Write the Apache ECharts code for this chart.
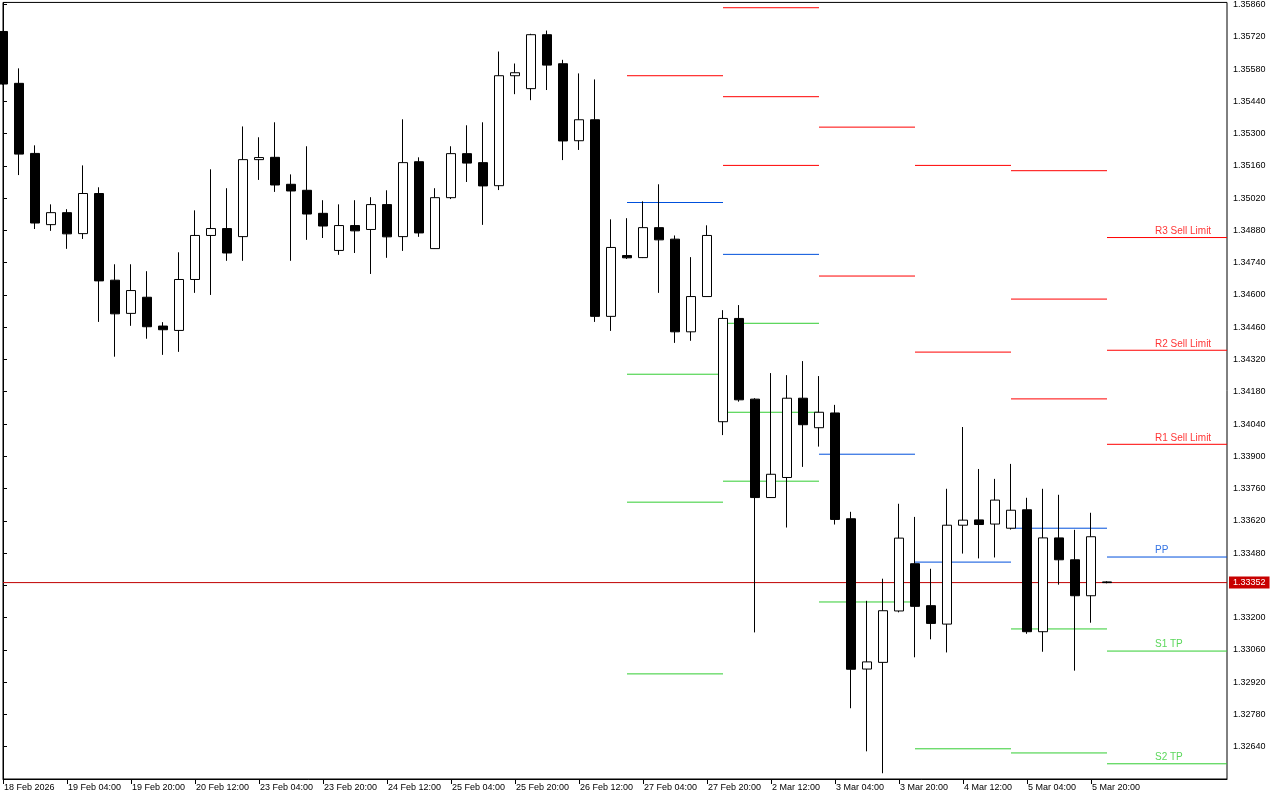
<!DOCTYPE html>
<html>
<head>
<meta charset="utf-8">
<script src="https://cdn.jsdelivr.net/npm/echarts@6/dist/echarts.min.js"></script>
<style>
  html, body { margin: 0; padding: 0; background: #fff; }
  #chart { width: 1280px; height: 800px; }
</style>
</head>
<body>
<div id="chart"></div>
<script>
// H4 candles, index 0 = 18 Feb 2026 12:00
const timeLabels = ['18 Feb 2026', '19 Feb 04:00', '19 Feb 20:00', '20 Feb 12:00', '23 Feb 04:00',
  '23 Feb 20:00', '24 Feb 12:00', '25 Feb 04:00', '25 Feb 20:00', '26 Feb 12:00', '27 Feb 04:00',
  '27 Feb 20:00', '2 Mar 12:00', '3 Mar 04:00', '3 Mar 20:00', '4 Mar 12:00', '5 Mar 04:00', '5 Mar 20:00'];

const opens = [1.35743, 1.35518, 1.35214, 1.34905, 1.34957, 1.34866, 1.35040, 1.34664, 1.34520, 1.34590,
  1.34465, 1.34446, 1.34667, 1.34858, 1.34888, 1.34853, 1.35187, 1.35197, 1.35080, 1.35054,
  1.34954, 1.34793, 1.34901, 1.34884, 1.34992, 1.34853, 1.35178, 1.34801, 1.35022, 1.35213,
  1.35174, 1.35074, 1.35551, 1.35495, 1.35729, 1.35603, 1.35269, 1.35360, 1.34507, 1.34771,
  1.34762, 1.34892, 1.34842, 1.34440, 1.34593, 1.34050, 1.34498, 1.34148, 1.33721, 1.33808,
  1.34152, 1.34024, 1.34088, 1.33629, 1.32977, 1.33006, 1.33229, 1.33434, 1.33252, 1.33172,
  1.33601, 1.33624, 1.33606, 1.33588, 1.33668, 1.33139, 1.33546, 1.33451, 1.33295, 1.33355];
const closes = [1.35515, 1.35211, 1.34912, 1.34957, 1.34865, 1.35040, 1.34661, 1.34518, 1.34619, 1.34462,
  1.34449, 1.34667, 1.34858, 1.34888, 1.34782, 1.35187, 1.35196, 1.35077, 1.35051, 1.34951,
  1.34899, 1.34901, 1.34878, 1.34992, 1.34852, 1.35174, 1.34869, 1.35022, 1.35213, 1.35172,
  1.35073, 1.35551, 1.35564, 1.35729, 1.35597, 1.35268, 1.35360, 1.34507, 1.34806, 1.34761,
  1.34892, 1.34839, 1.34440, 1.34593, 1.34858, 1.34498, 1.34145, 1.33721, 1.33822, 1.34152,
  1.34037, 1.34091, 1.33626, 1.32976, 1.33008, 1.33230, 1.33545, 1.33249, 1.33175, 1.33601,
  1.33623, 1.33604, 1.33710, 1.33666, 1.33139, 1.33546, 1.33451, 1.33295, 1.33551, 1.33352];
const lows = [1.35512, 1.35120, 1.34886, 1.34878, 1.34800, 1.34843, 1.34483, 1.34332, 1.34466, 1.34410,
  1.34340, 1.34353, 1.34609, 1.34600, 1.34748, 1.34748, 1.35099, 1.35047, 1.34748, 1.34839,
  1.34847, 1.34774, 1.34782, 1.34691, 1.34761, 1.34791, 1.34852, 1.34800, 1.35016, 1.35090,
  1.34904, 1.35055, 1.35471, 1.35445, 1.35489, 1.35185, 1.35229, 1.34483, 1.34444, 1.34756,
  1.34760, 1.34609, 1.34392, 1.34401, 1.34593, 1.33992, 1.34137, 1.33136, 1.33720, 1.33591,
  1.33854, 1.33942, 1.33604, 1.32807, 1.32620, 1.32525, 1.33223, 1.33028, 1.33106, 1.33049,
  1.33478, 1.33457, 1.33461, 1.33582, 1.33130, 1.33052, 1.33343, 1.32970, 1.33178, 1.33349];
const highs = [1.35745, 1.35583, 1.35249, 1.34993, 1.34972, 1.35162, 1.35067, 1.34733, 1.34733, 1.34703,
  1.34482, 1.34785, 1.34967, 1.35145, 1.35063, 1.35331, 1.35284, 1.35349, 1.35123, 1.35245,
  1.35011, 1.34993, 1.35011, 1.35024, 1.35054, 1.35362, 1.35197, 1.35063, 1.35245, 1.35336,
  1.35349, 1.35656, 1.35604, 1.35733, 1.35747, 1.35620, 1.35561, 1.35535, 1.34928, 1.34933,
  1.35006, 1.35080, 1.34858, 1.34764, 1.34902, 1.34534, 1.34556, 1.34152, 1.34261, 1.34252,
  1.34313, 1.34248, 1.34123, 1.33659, 1.33273, 1.33369, 1.33694, 1.33637, 1.33412, 1.33759,
  1.34027, 1.33845, 1.33802, 1.33867, 1.33720, 1.33759, 1.33733, 1.33581, 1.33655, 1.33358];

const currentPrice = 1.33352;

// daily pivot levels: 27 Feb, 2 Mar, 3 Mar, 4 Mar, 5 Mar, 6 Mar
const pivotStart = [39, 45, 51, 57, 63, 69];
const R3 = [null, 1.35846, null, null, 1.35139, 1.34849];
const R2 = [null, 1.35460, 1.35328, 1.35162, 1.34582, 1.34360];
const R1 = [1.35551, 1.35162, 1.34682, 1.34352, 1.34149, 1.33952];
const PP = [1.35001, 1.34776, 1.33909, 1.33441, 1.33588, 1.33463];
const S1 = [1.34256, 1.34477, 1.33268, 1.32631, 1.33151, 1.33055];
const S2 = [1.33701, 1.34091, null, null, 1.32613, 1.32566];
const S3 = [1.32956, 1.33792, null, null, null, null];
const levelLabels = ['R3 Sell Limit', 'R2 Sell Limit', 'R1 Sell Limit', 'PP', 'S1 TP', 'S2 TP', ''];

const X_MAX = 76.5;
const LABEL_X = 72;
const RED = '#ff0000', BLUE = '#0050dc', GREEN = '#32cd32';
const levels = [R3, R2, R1, PP, S1, S2, S3];
const levelColors = [RED, RED, RED, BLUE, GREEN, GREEN, GREEN];

const candles = opens.map((o, i) => [i, o, closes[i], lows[i], highs[i]]);
const timeTicks = timeLabels.map((t, i) => i * 4);

const series = [{
  type: 'candlestick',
  data: candles,
  barWidth: 10,
  clip: true,
  z: 5,
  itemStyle: {
    color: '#ffffff',
    color0: '#000000',
    borderColor: '#000000',
    borderColor0: '#000000',
    borderWidth: 1
  }
}, {
  // bid line with price tag on the axis
  type: 'line',
  data: [[0, currentPrice], [X_MAX, currentPrice]],
  symbol: 'none',
  silent: true,
  z: 4,
  lineStyle: { color: '#c00000', width: 1 },
  endLabel: {
    show: true,
    distance: 2,
    formatter: currentPrice.toFixed(5),
    backgroundColor: '#c80000',
    color: '#ffffff',
    fontFamily: 'Liberation Sans',
    fontSize: 9,
    padding: [2, 4, 1, 4]
  }
}];

const labelPoints = [];
levels.forEach((vals, li) => {
  vals.forEach((v, d) => {
    if (v == null) return;
    const last = d === pivotStart.length - 1;
    const end = last ? X_MAX : pivotStart[d + 1];
    if (last && levelLabels[li]) {
      labelPoints.push({
        value: [LABEL_X, v],
        label: { formatter: levelLabels[li], color: levelColors[li] }
      });
    }
    series.push({
      type: 'line',
      data: [[pivotStart[d], v], [end, v]],
      symbol: 'none',
      silent: true,
      z: 3,
      lineStyle: { color: levelColors[li], width: 1 }
    });
  });
});

series.push({
  type: 'scatter',
  data: labelPoints,
  symbolSize: 1,
  silent: true,
  z: 6,
  itemStyle: { color: 'rgba(0,0,0,0)' },
  label: {
    show: true,
    position: 'top',
    align: 'left',
    distance: 1,
    fontFamily: 'Liberation Sans',
    fontSize: 10
  }
});

const chart = echarts.init(document.getElementById('chart'));
chart.setOption({
  animation: false,
  backgroundColor: '#ffffff',
  grid: {
    left: 3, right: 53, top: 2, bottom: 21,
    show: true, borderColor: '#000000', borderWidth: 1, backgroundColor: 'transparent'
  },
  xAxis: {
    type: 'value',
    min: 0,
    max: X_MAX,
    interval: 4,
    axisLine: { show: true, lineStyle: { color: '#000', width: 1 } },
    axisTick: { show: true, length: 5, customValues: timeTicks, lineStyle: { color: '#000' } },
    splitLine: { show: false },
    axisLabel: {
      color: '#000',
      fontFamily: 'Liberation Sans',
      fontSize: 9,
      align: 'left',
      margin: 4,
      padding: [0, 0, 0, 1],
      customValues: timeTicks,
      formatter: v => timeLabels[Math.round(v / 4)] || ''
    }
  },
  yAxis: {
    type: 'value',
    position: 'right',
    min: 1.325,
    max: 1.35869,
    interval: 0.0014,
    axisLine: { show: true, lineStyle: { color: '#000', width: 1 } },
    axisTick: { show: true, length: 4, lineStyle: { color: '#000' } },
    splitLine: { show: false },
    axisLabel: {
      color: '#000',
      fontFamily: 'Liberation Sans',
      fontSize: 9,
      margin: 6,
      formatter: v => {
        const k = (v - 1.3264) / 0.0014;
        if (v < 1.3262 || v > 1.3587 || Math.abs(k - Math.round(k)) > 0.01) return '';
        return v.toFixed(5);
      }
    }
  },
  series: series
});
</script>
</body>
</html>
